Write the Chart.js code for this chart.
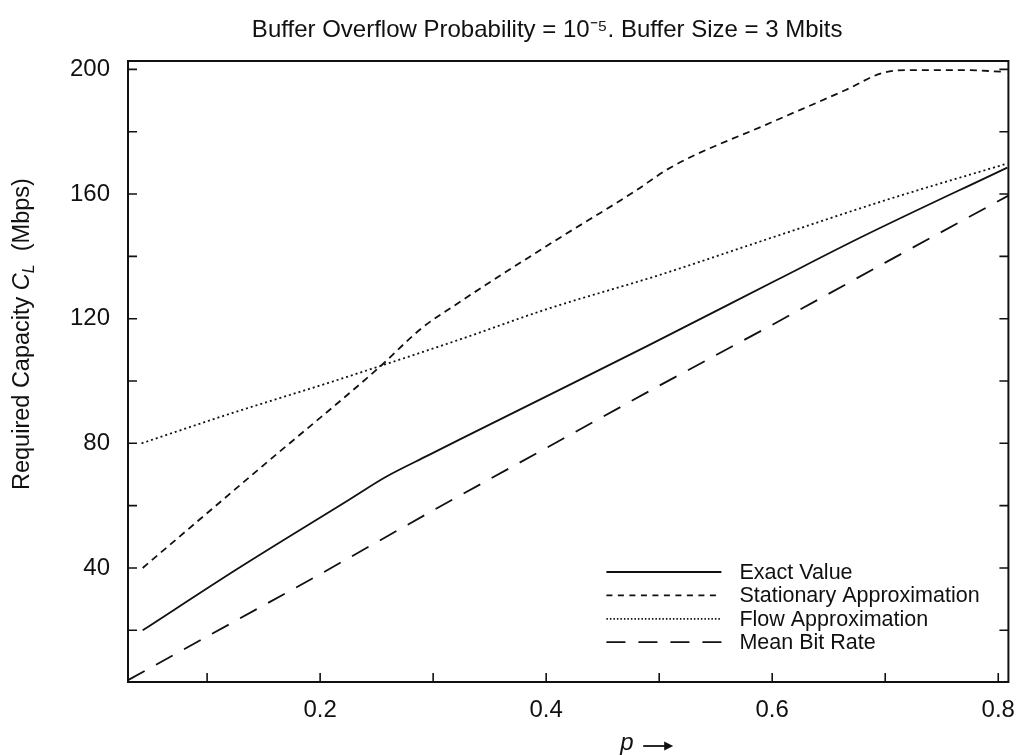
<!DOCTYPE html>
<html>
<head>
<meta charset="utf-8">
<script src="https://cdn.jsdelivr.net/npm/chart.js@4.4.0/dist/chart.umd.min.js"></script>
<style>
  html, body { margin: 0; padding: 0; background: #fff; }
</style>
</head>
<body>
<canvas id="chart" width="1029" height="755"></canvas>
<script>
// values
const titleText = "Buffer Overflow Probability = 10\u207B\u2075. Buffer Size = 3 Mbits";
const seriesNames = ["Exact Value", "Stationary Approximation", "Flow Approximation", "Mean Bit Rate"];

const exactP = [0.043, 0.128, 0.226, 0.258, 0.296, 0.325, 0.406, 0.491, 0.604, 0.679, 0.808];
const exactC = [20, 40, 62, 69.2, 76.2, 81.5, 96.1, 111.5, 132.4, 146.2, 168.5];

const statP = [0.043, 0.15, 0.252, 0.29, 0.32, 0.406, 0.476, 0.511, 0.598, 0.665, 0.697, 0.72, 0.77, 0.806];
const statC = [40, 73, 104.3, 117, 124.5, 144.6, 160.3, 168.7, 182.8, 193.4, 198.8, 199.8, 199.8, 199.2];

const flowP = [0.042, 0.122, 0.209, 0.325, 0.4, 0.5, 0.602, 0.7, 0.808];
const flowC = [80, 89.7, 99.6, 113.5, 123, 134, 146.3, 158, 169.8];

const meanP = [0.03, 0.1, 0.2, 0.3, 0.4, 0.5, 0.6, 0.7, 0.809];
const meanC = [4, 18, 38, 58.5, 78.5, 98.5, 118, 138, 159.5];

const xTickVals = [0.1, 0.2, 0.3, 0.4, 0.5, 0.6, 0.7, 0.8];
const xTickLabels = ["", "0.2", "", "0.4", "", "0.6", "", "0.8"];
const yTickVals = [20, 40, 60, 80, 100, 120, 140, 160, 180, 200];
const yTickLabels = ["", "40", "", "80", "", "120", "", "160", "", "200"];

const ink = "#111";
const face = "'Liberation Sans', Arial, Helvetica, sans-serif";

const pts = (xs, ys) => xs.map((x, i) => ({ x, y: ys[i] }));

// frame, inward ticks, title, legend and axis titles
const decorations = {
  id: "decorations",
  afterDatasetsDraw(chart) {
    const { ctx, chartArea: a, scales: { x, y } } = chart;
    ctx.save();
    ctx.strokeStyle = ink;
    ctx.fillStyle = ink;
    ctx.lineWidth = 2;
    ctx.setLineDash([]);
    ctx.strokeRect(a.left, a.top, a.right - a.left, a.bottom - a.top);

    ctx.lineWidth = 1.6;
    ctx.beginPath();
    x.ticks.forEach((t) => {
      const px = x.getPixelForValue(t.value);
      ctx.moveTo(px, a.bottom);
      ctx.lineTo(px, a.bottom - 9);
    });
    y.ticks.forEach((t) => {
      const py = y.getPixelForValue(t.value);
      ctx.moveTo(a.left, py);
      ctx.lineTo(a.left + 9, py);
      ctx.moveTo(a.right, py);
      ctx.lineTo(a.right - 9, py);
    });
    ctx.stroke();

    // title, a little left of the plot centre as in the scan
    ctx.font = "24px " + face;
    ctx.textAlign = "center";
    ctx.textBaseline = "alphabetic";
    ctx.fillText(titleText, (a.left + a.right) / 2 - 21, a.top - 24);
    ctx.textAlign = "left";

    // legend in the lower right corner
    const lx0 = a.right - 402, lx1 = a.right - 287, tx = a.right - 269;
    ctx.font = "21.5px " + face;
    ctx.textBaseline = "middle";
    chart.data.datasets.forEach((ds, i) => {
      const ly = a.bottom - 110 + i * 23.4;
      ctx.lineWidth = ds.borderWidth;
      ctx.setLineDash(ds.legendDash || ds.borderDash || []);
      ctx.beginPath();
      ctx.moveTo(lx0, ly);
      ctx.lineTo(lx1, ly);
      ctx.stroke();
      ctx.fillText(ds.label, tx, ly + 1);
    });
    ctx.setLineDash([]);

    // x title: italic p and an arrow
    const cx = (a.left + a.right) / 2 + 52;
    const by = a.bottom + 68;
    ctx.textBaseline = "alphabetic";
    ctx.font = "italic 24px " + face;
    ctx.fillText("p", cx, by);
    const ay = by - 4, ax0 = cx + 23, ax1 = cx + 53;
    ctx.lineWidth = 1.8;
    ctx.beginPath();
    ctx.moveTo(ax0, ay);
    ctx.lineTo(ax1 - 4, ay);
    ctx.stroke();
    ctx.beginPath();
    ctx.moveTo(ax1, ay);
    ctx.lineTo(ax1 - 9, ay - 4.5);
    ctx.lineTo(ax1 - 9, ay + 4.5);
    ctx.closePath();
    ctx.fill();

    // y title with C_L, read bottom to top
    ctx.translate(29, a.bottom - 192);
    ctx.rotate(-Math.PI / 2);
    const parts = [
      { t: "Required Capacity ", f: "23.5px " + face, dy: 0 },
      { t: "C", f: "italic 23.5px " + face, dy: 0 },
      { t: "L", f: "italic 16px " + face, dy: 5 },
      { t: "  (Mbps)", f: "23.5px " + face, dy: 0 },
    ];
    let px = 0;
    parts.forEach((p) => {
      ctx.font = p.f;
      ctx.fillText(p.t, px, p.dy);
      px += ctx.measureText(p.t).width;
    });
    ctx.restore();
  },
};

new Chart(document.getElementById("chart"), {
  type: "line",
  data: {
    datasets: [
      { label: seriesNames[0], data: pts(exactP, exactC), borderColor: ink, borderWidth: 1.8, cubicInterpolationMode: "monotone" },
      { label: seriesNames[1], data: pts(statP, statC), borderColor: ink, borderWidth: 1.8, borderDash: [7, 5], legendDash: [6, 5.5], cubicInterpolationMode: "monotone" },
      { label: seriesNames[2], data: pts(flowP, flowC), borderColor: ink, borderWidth: 1.8, borderDash: [2, 3], legendDash: [1.5, 2], cubicInterpolationMode: "monotone" },
      { label: seriesNames[3], data: pts(meanP, meanC), borderColor: ink, borderWidth: 1.8, borderDash: [19, 13] },
    ],
  },
  options: {
    responsive: false,
    animation: false,
    devicePixelRatio: 1,
    elements: { point: { radius: 0 }, line: { tension: 0 } },
    layout: { padding: { left: 0, right: 7, top: 61, bottom: 0 } },
    plugins: {
      legend: { display: false },
      tooltip: { enabled: false },
      title: { display: false },
    },
    scales: {
      x: {
        type: "linear",
        min: 0.03,
        max: 0.809,
        grid: { display: false, drawTicks: false },
        border: { display: false },
        afterBuildTicks: (s) => { s.ticks = xTickVals.map((v) => ({ value: v })); },
        afterFit: (s) => { s.height = 73; },
        ticks: {
          color: ink,
          padding: 14,
          maxRotation: 0,
          autoSkip: false,
          font: { family: face, size: 24 },
          callback: (v, i) => xTickLabels[i],
        },
      },
      y: {
        min: 3.4,
        max: 202.7,
        grid: { display: false, drawTicks: false },
        border: { display: false },
        afterBuildTicks: (s) => { s.ticks = yTickVals.map((v) => ({ value: v })); },
        afterFit: (s) => { s.width = 128; },
        ticks: {
          color: ink,
          padding: 18,
          autoSkip: false,
          font: { family: face, size: 24 },
          callback: (v, i) => yTickLabels[i],
        },
      },
    },
  },
  plugins: [decorations],
});
</script>
</body>
</html>
